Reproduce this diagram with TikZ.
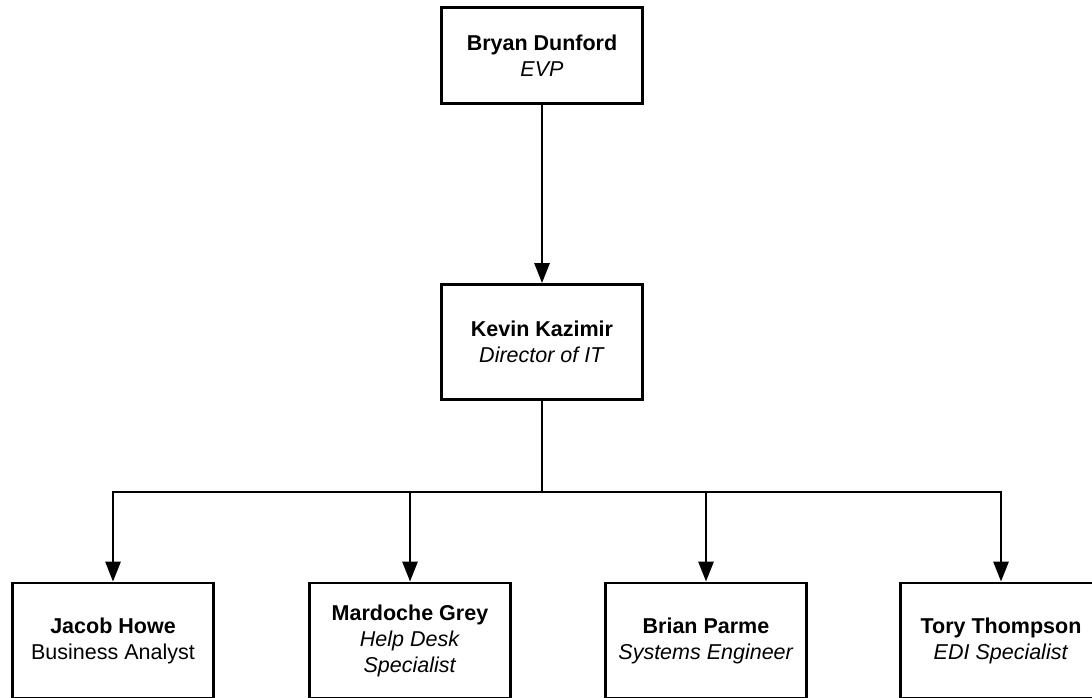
\documentclass[tikz,border=0pt]{standalone}
\usepackage{fontspec}
\setmainfont{Liberation Sans}
\usetikzlibrary{arrows.meta}
\begin{document}
\begin{tikzpicture}[x=1pt,y=-1pt,
  person/.style={draw=black,line width=2.8pt,fill=white,minimum width=201pt,align=center,font=\fontsize{21.5}{26}\selectfont,inner sep=0pt},
  conn/.style={line width=2.8pt,-{Triangle[length=20pt,width=15pt]}},
  bus/.style={line width=2.8pt}]
\useasboundingbox (0,0) rectangle (1092,698);
\clip (0,0) rectangle (1092,698);
\node[person,minimum height=96pt] (bryan) at (542,55.5) {\textbf{Bryan Dunford}\\\textit{EVP}};
\node[person,minimum height=115pt] (kevin) at (542,342) {\textbf{Kevin Kazimir}\\\textit{Director of IT}};
\node[person,minimum height=115pt] (jacob) at (113,640.5) {\textbf{Jacob Howe}\\Business Analyst};
\node[person,minimum height=115pt] (mardoche) at (410,640.5) {\textbf{Mardoche Grey}\\\textit{Help Desk}\\\textit{Specialist}};
\node[person,minimum height=115pt] (brian) at (706,640.5) {\textbf{Brian Parme}\\\textit{Systems Engineer}};
\node[person,minimum height=115pt] (tory) at (1001,640.5) {\textbf{Tory Thompson}\\\textit{EDI Specialist}};
\coordinate (j) at (542,492);
\draw[conn] (bryan.south) -- (kevin.north);
\draw[bus] (kevin.south) -- (j);
\draw[conn] (j) -| (jacob.north);
\draw[conn] (j) -| (mardoche.north);
\draw[conn] (j) -| (brian.north);
\draw[conn] (j) -| (tory.north);
\end{tikzpicture}
\end{document}
